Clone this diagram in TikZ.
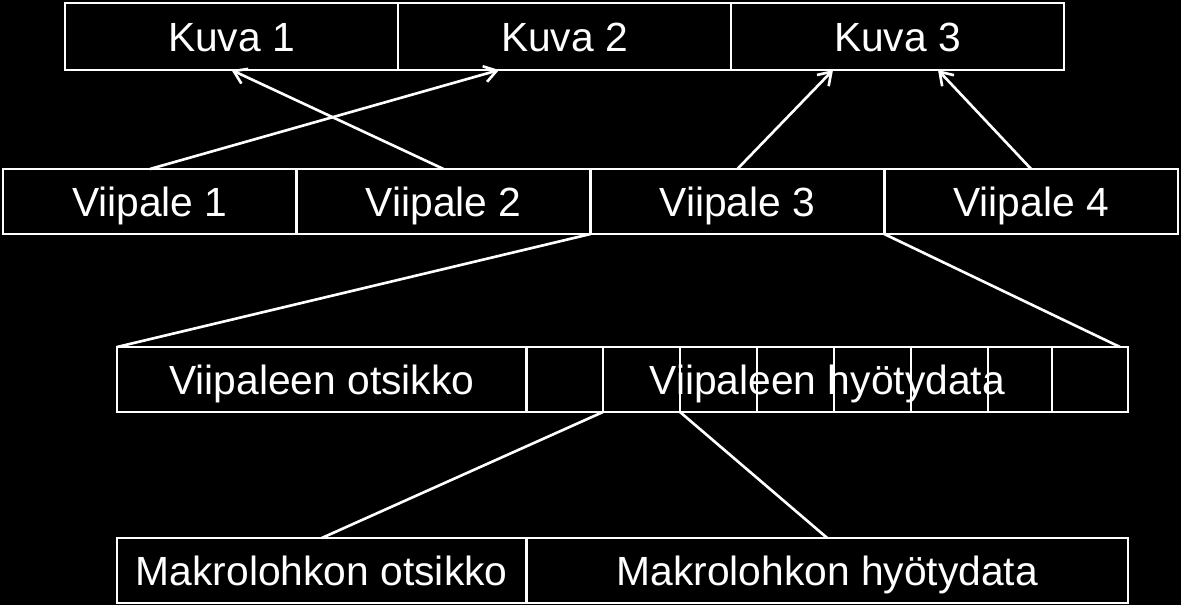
\documentclass[tikz,border=0pt]{standalone}
\usepackage{fontspec}
\setmainfont{Liberation Sans}
\usetikzlibrary{arrows.meta, positioning, calc}
\tikzstyle{cell} = [rectangle, draw=white, line width=0.75pt, minimum height=0.65cm, inner sep=0pt, outer sep=0pt, text=white, text height=8.3pt, text depth=0pt, font=\fontsize{11.6}{13.9}\selectfont]
\tikzstyle{arrow} = [white, line width=0.75pt, -{Straight Barb[length=3.5pt, width=4.6pt]}]
\tikzstyle{link} = [white, line width=0.75pt]
\begin{document}
\begin{tikzpicture}

\fill[black] (0,0) rectangle (11.81,-6.05);

% Kuvat
\node (kuva1) [cell, minimum width=3.33cm, minimum height=0.67cm] at (2.315,-0.365) {Kuva 1};
\node (kuva2) [cell, minimum width=3.33cm, minimum height=0.67cm, right=0pt of kuva1] {Kuva 2};
\node (kuva3) [cell, minimum width=3.33cm, minimum height=0.67cm, right=0pt of kuva2] {Kuva 3};

% Viipaleet
\node (viipale1) [cell, minimum width=2.9375cm] at (1.49875,-2.015) {Viipale 1};
\node (viipale2) [cell, minimum width=2.9375cm, right=0pt of viipale1] {Viipale 2};
\node (viipale3) [cell, minimum width=2.9375cm, right=0pt of viipale2] {Viipale 3};
\node (viipale4) [cell, minimum width=2.9375cm, right=0pt of viipale3] {Viipale 4};

% Viipaleen rakenne
\node (otsikko) [cell, minimum width=4.095cm] at (3.2175,-3.795) {Viipaleen otsikko};
\node (mb1) [cell, minimum width=0.765cm, right=0pt of otsikko] {};
\node (mb2) [cell, minimum width=0.77cm, right=0pt of mb1] {};
\node (mb3) [cell, minimum width=0.77cm, right=0pt of mb2] {};
\node (mb4) [cell, minimum width=0.77cm, right=0pt of mb3] {};
\node (mb5) [cell, minimum width=0.77cm, right=0pt of mb4] {};
\node (mb6) [cell, minimum width=0.77cm, right=0pt of mb5] {};
\node (mb7) [cell, minimum width=0.64cm, right=0pt of mb6] {};
\node (mb8) [cell, minimum width=0.76cm, right=0pt of mb7] {};
\node (hyotydata) [cell, draw=none] at ($(otsikko.east)!0.5!(mb8.east)$) {Viipaleen hyötydata};

% Makrolohkon rakenne
\node (mbotsikko) [cell, minimum width=4.095cm] at (3.2175,-5.705) {Makrolohkon otsikko};
\node (mbdata) [cell, minimum width=6.015cm, right=0pt of mbotsikko] {Makrolohkon hyötydata};

% Nuolet
\draw [arrow] (viipale1.north) -- ([xshift=-0.655cm]kuva2.south);
\draw [arrow] (viipale2.north) -- (kuva1.south);
\draw [arrow] (viipale3.north) -- ([xshift=-0.645cm]kuva3.south);
\draw [arrow] (viipale4.north) -- ([xshift=0.405cm]kuva3.south);

% Laajennukset
\draw [link] (viipale3.south west) -- (otsikko.north west);
\draw [link] (viipale4.south west) -- ([xshift=-0.08cm]mb8.north east);
\draw [link] (mb2.south west) -- (mbotsikko.north);
\draw [link] (mb2.south east) -- (mbdata.north);

\end{tikzpicture}
\end{document}
